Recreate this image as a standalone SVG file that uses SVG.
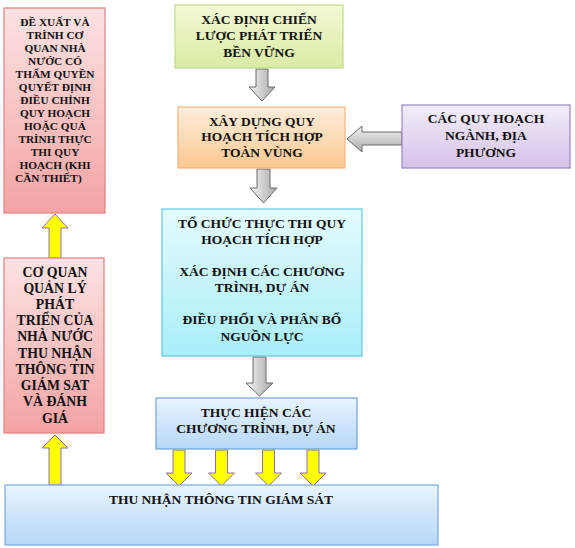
<svg xmlns="http://www.w3.org/2000/svg" width="575" height="548" viewBox="0 0 575 548">
<defs>
<linearGradient id="gRed" x1="0" y1="0" x2="0" y2="1"><stop offset="0" stop-color="#fce3e3"/><stop offset="1" stop-color="#f4a3a3"/></linearGradient>
<linearGradient id="gGreen" x1="0" y1="0" x2="0" y2="1"><stop offset="0" stop-color="#f3f9d6"/><stop offset="1" stop-color="#d9eca3"/></linearGradient>
<linearGradient id="gOrange" x1="0" y1="0" x2="0" y2="1"><stop offset="0" stop-color="#fdeedd"/><stop offset="1" stop-color="#fbc88f"/></linearGradient>
<linearGradient id="gPurple" x1="0" y1="0" x2="0" y2="1"><stop offset="0" stop-color="#f3edf9"/><stop offset="1" stop-color="#d4c2ea"/></linearGradient>
<linearGradient id="gCyan" x1="0" y1="0" x2="0" y2="1"><stop offset="0" stop-color="#e4fbfe"/><stop offset="1" stop-color="#a9eef8"/></linearGradient>
<linearGradient id="gBlue" x1="0" y1="0" x2="0" y2="1"><stop offset="0" stop-color="#e9f4fe"/><stop offset="1" stop-color="#b5d7f8"/></linearGradient>
<linearGradient id="gGrayV" x1="0" y1="0" x2="1" y2="0"><stop offset="0" stop-color="#f4f4f4"/><stop offset="1" stop-color="#a8a8a8"/></linearGradient>
<linearGradient id="gGrayH" x1="0" y1="0" x2="0" y2="1"><stop offset="0" stop-color="#f4f4f4"/><stop offset="1" stop-color="#a8a8a8"/></linearGradient>
</defs>
<style>
.t{font-family:"Liberation Serif","Times New Roman",serif;font-weight:bold;fill:#111;text-anchor:middle;}
.ga{stroke:#6a6a6a;stroke-width:1;}
.ya{fill:#ffff00;stroke:#8a70b0;stroke-width:1;}
</style>
<g id="connectors">
<polygon class="ga" fill="url(#gGrayV)" points="256,69 268,69 268,87 275,87 262,101 249,87 256,87"/>
<polygon class="ga" fill="url(#gGrayV)" points="257,169 270,169 270,188 277,188 263.5,203 250,188 257,188"/>
<polygon class="ga" fill="url(#gGrayV)" points="253,357 266,357 266,383 273,383 259.5,396 246,383 253,383"/>
<polygon class="ga" fill="url(#gGrayH)" points="402,132 362,132 362,126 347,139 362,152 362,145 402,145"/>
<polygon class="ya" points="49,258 61,258 61,228 68,228 55,214 42,228 49,228"/>
<polygon class="ya" points="49,485 61,485 61,448 68,448 55,435 42,448 49,448"/>
<polygon class="ya" points="173,450 185,450 185,473 192,473 179,486 166,473 173,473"/>
<polygon class="ya" points="215.5,450 227.5,450 227.5,473 234.5,473 221.5,486 208.5,473 215.5,473"/>
<polygon class="ya" points="262.5,450 274.5,450 274.5,473 281.5,473 268.5,486 255.5,473 262.5,473"/>
<polygon class="ya" points="307,450 319,450 319,473 326,473 313,486 300,473 307,473"/>
</g>
<g id="node-de-xuat">
<rect x="4" y="8" width="101" height="205" fill="url(#gRed)" stroke="#e08080" stroke-width="1.2"/>
<text class="t" font-size="11.3" x="55" y="26">ĐỀ XUẤT VÀ</text>
<text class="t" font-size="11.3" x="55" y="39">TRÌNH CƠ</text>
<text class="t" font-size="11.3" x="55" y="52">QUAN NHÀ</text>
<text class="t" font-size="11.3" x="55" y="65">NƯỚC CÓ</text>
<text class="t" font-size="11.3" x="55" y="78">THẨM QUYỀN</text>
<text class="t" font-size="11.3" x="55" y="91">QUYẾT ĐỊNH</text>
<text class="t" font-size="11.3" x="55" y="104">ĐIỀU CHỈNH</text>
<text class="t" font-size="11.3" x="55" y="117">QUY HOẠCH</text>
<text class="t" font-size="11.3" x="55" y="130">HOẶC QUÁ</text>
<text class="t" font-size="11.3" x="55" y="143">TRÌNH THỰC</text>
<text class="t" font-size="11.3" x="55" y="156">THI QUY</text>
<text class="t" font-size="11.3" x="55" y="169">HOẠCH (KHI</text>
<text class="t" font-size="11.3" x="15" y="182" style="text-anchor:start">CẦN THIẾT)</text>
</g>
<g id="node-co-quan">
<rect x="4" y="258" width="100" height="175" fill="url(#gRed)" stroke="#e08080" stroke-width="1.2"/>
<text class="t" font-size="13.8" x="55" y="277">CƠ QUAN</text>
<text class="t" font-size="13.8" x="55" y="293">QUẢN LÝ</text>
<text class="t" font-size="13.8" x="55" y="309">PHÁT</text>
<text class="t" font-size="13.8" x="55" y="325">TRIỂN CỦA</text>
<text class="t" font-size="13.8" x="55" y="341">NHÀ NƯỚC</text>
<text class="t" font-size="13.8" x="55" y="358">THU NHẬN</text>
<text class="t" font-size="13.8" x="55" y="374">THÔNG TIN</text>
<text class="t" font-size="13.8" x="55" y="390">GIÁM SAT</text>
<text class="t" font-size="13.8" x="55" y="406">VÀ ĐÁNH</text>
<text class="t" font-size="13.8" x="55" y="423">GIÁ</text>
</g>
<g id="node-chien-luoc">
<rect x="175" y="5" width="168" height="63" fill="url(#gGreen)" stroke="#c2da8e" stroke-width="1.2"/>
<text class="t" font-size="13.5" x="259" y="24">XÁC ĐỊNH CHIẾN</text>
<text class="t" font-size="13.5" x="259" y="40">LƯỢC PHÁT TRIỂN</text>
<text class="t" font-size="13.5" x="259" y="57">BỀN VỮNG</text>
</g>
<g id="node-xay-dung">
<rect x="178" y="107" width="167" height="61" fill="url(#gOrange)" stroke="#f7b57a" stroke-width="1.2"/>
<text class="t" font-size="13.5" x="262" y="126">XÂY DỰNG QUY</text>
<text class="t" font-size="13.5" x="262" y="141">HOẠCH TÍCH HỢP</text>
<text class="t" font-size="13.5" x="262" y="157">TOÀN VÙNG</text>
</g>
<g id="node-cac-quy-hoach">
<rect x="402" y="105" width="168" height="63" fill="url(#gPurple)" stroke="#9c84c4" stroke-width="1.2"/>
<text class="t" font-size="13.5" x="486" y="123">CÁC QUY HOẠCH</text>
<text class="t" font-size="13.5" x="486" y="140">NGÀNH, ĐỊA</text>
<text class="t" font-size="13.5" x="486" y="157">PHƯƠNG</text>
</g>
<g id="node-to-chuc">
<rect x="162" y="209" width="200" height="147" fill="url(#gCyan)" stroke="#63c6de" stroke-width="1.2"/>
<text class="t" font-size="13.5" x="262" y="228">TỔ CHỨC THỰC THI QUY</text>
<text class="t" font-size="13.5" x="262" y="244">HOẠCH TÍCH HỢP</text>
<text class="t" font-size="13.5" x="262" y="276">XÁC ĐỊNH CÁC CHƯƠNG</text>
<text class="t" font-size="13.5" x="262" y="292">TRÌNH, DỰ ÁN</text>
<text class="t" font-size="13.5" x="262" y="324">ĐIỀU PHỐI VÀ PHÂN BỔ</text>
<text class="t" font-size="13.5" x="262" y="341">NGUỒN LỰC</text>
</g>
<g id="node-thuc-hien">
<rect x="156" y="398" width="201" height="51" fill="url(#gBlue)" stroke="#72a2dc" stroke-width="1.2"/>
<text class="t" font-size="13.5" x="256" y="417">THỰC HIỆN CÁC</text>
<text class="t" font-size="13.5" x="256" y="433">CHƯƠNG TRÌNH, DỰ ÁN</text>
</g>
<g id="node-thu-nhan">
<rect x="5" y="485" width="433" height="60" fill="url(#gBlue)" stroke="#7aa8e0" stroke-width="1.2"/>
<text class="t" font-size="13.5" x="221" y="504">THU NHẬN THÔNG TIN GIÁM SÁT</text>
</g>
</svg>
